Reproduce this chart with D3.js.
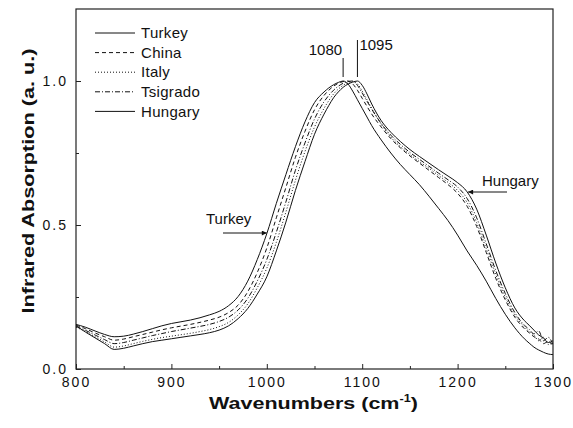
<!DOCTYPE html>
<html>
<head>
<meta charset="utf-8">
<script src="https://cdn.jsdelivr.net/npm/d3@7/dist/d3.min.js"></script>
<style>
  html, body { margin: 0; padding: 0; background: #fff; }
  svg { display: block; }
  text { font-family: Arial, "Liberation Sans", sans-serif; fill: #111; }
</style>
</head>
<body>
<svg id="chart" width="573" height="428"></svg>
<script>
// Wavenumber grid (cm^-1) shared by all spectra
const wavenumbers = [800,810,820,830,840,850,860,870,880,890,900,910,920,930,940,950,960,970,980,990,
  1000,1010,1020,1030,1040,1050,1060,1065,1070,1075,1080,1085,1090,1095,1100,1105,1110,
  1120,1130,1140,1150,1160,1170,1180,1190,1200,1210,1220,1230,1240,1250,1260,1270,
  1275,1280,1285,1290,1295,1300];

// Normalised infrared absorption for each sample
const turkey = [0.155,0.145,0.132,0.120,0.112,0.114,0.121,0.130,0.140,0.150,0.158,0.164,0.170,0.178,0.188,0.200,0.220,0.252,0.305,0.380,
  0.470,0.575,0.675,0.772,0.858,0.925,0.962,0.976,0.987,0.995,1.000,0.990,0.965,0.935,0.905,0.875,0.845,
  0.795,0.750,0.710,0.675,0.640,0.600,0.558,0.515,0.465,0.410,0.360,0.305,0.245,0.190,0.143,0.105,
  0.090,0.076,0.066,0.058,0.052,0.050];
const china = [0.152,0.140,0.125,0.112,0.100,0.104,0.112,0.120,0.128,0.136,0.143,0.149,0.155,0.162,0.170,0.180,0.196,0.222,0.268,0.335,
  0.420,0.525,0.630,0.735,0.825,0.900,0.950,0.968,0.982,0.992,0.998,1.000,0.990,0.968,0.940,0.912,0.885,
  0.840,0.800,0.768,0.740,0.715,0.690,0.665,0.640,0.610,0.565,0.495,0.405,0.315,0.240,0.180,0.140,
  0.126,0.112,0.104,0.088,0.096,0.080];
const italy = [0.145,0.130,0.112,0.094,0.076,0.080,0.088,0.096,0.103,0.109,0.114,0.119,0.124,0.130,0.137,0.147,0.162,0.188,0.226,0.282,
  0.350,0.440,0.545,0.655,0.755,0.840,0.905,0.932,0.955,0.972,0.985,0.994,0.999,0.990,0.965,0.935,0.905,
  0.850,0.805,0.772,0.745,0.720,0.697,0.672,0.648,0.620,0.578,0.508,0.418,0.328,0.250,0.188,0.146,
  0.130,0.118,0.098,0.110,0.085,0.092];
const tsigrado = [0.148,0.134,0.118,0.102,0.088,0.092,0.100,0.108,0.116,0.123,0.130,0.136,0.142,0.148,0.155,0.165,0.180,0.205,0.245,0.305,
  0.380,0.475,0.580,0.690,0.785,0.868,0.928,0.950,0.968,0.982,0.992,0.998,1.000,0.985,0.958,0.930,0.902,
  0.852,0.812,0.780,0.752,0.728,0.704,0.680,0.657,0.632,0.592,0.525,0.435,0.342,0.262,0.196,0.152,
  0.138,0.122,0.132,0.098,0.110,0.085];
const hungary = [0.150,0.128,0.108,0.088,0.068,0.072,0.080,0.088,0.095,0.100,0.105,0.110,0.115,0.120,0.126,0.135,0.150,0.175,0.210,0.260,
  0.320,0.410,0.510,0.620,0.720,0.815,0.885,0.915,0.942,0.962,0.978,0.989,0.996,1.000,0.985,0.955,0.920,
  0.862,0.822,0.790,0.762,0.738,0.715,0.692,0.670,0.647,0.615,0.555,0.465,0.368,0.282,0.212,0.168,
  0.152,0.135,0.118,0.108,0.092,0.098];

const seriesNames = ["Turkey", "China", "Italy", "Tsigrado", "Hungary"];
const seriesValues = [turkey, china, italy, tsigrado, hungary];
const dashStyles = ["none", "4,3", "1,2", "5,2,1,2", "none"];

const xTicks = [800, 900, 1000, 1100, 1200, 1300];
const xMinorTicks = [850, 950, 1050, 1150, 1250];
const yTicks = [0.0, 0.5, 1.0];
const yMinorTicks = [0.25, 0.75];

// Peak positions marked above the band
const peakMarks = [1080, 1095];

const margin = { left: 76, right: 20, top: 9, bottom: 59 };
const width = 573, height = 428;
const svg = d3.select("#chart");

const x = d3.scaleLinear().domain([800, 1300]).range([margin.left, width - margin.right]);
const y = d3.scaleLinear().domain([0, 1.25]).range([height - margin.bottom, margin.top]);

const plot = svg.append("g");

// Spectra
const line = d3.line()
  .x((d, i) => x(wavenumbers[i]))
  .y(d => y(d))
  .curve(d3.curveMonotoneX);

seriesValues.forEach((vals, k) => {
  plot.append("path")
    .attr("d", line(vals))
    .attr("fill", "none")
    .attr("stroke", "#111")
    .attr("stroke-width", 1)
    .attr("stroke-dasharray", dashStyles[k]);
});

// Axes frame with inward ticks
const axisColor = "#222";
const xAxis = d3.axisBottom(x).tickValues(xTicks).tickSizeInner(-5).tickSizeOuter(0).tickPadding(8).tickFormat(d3.format("d"));
const gx = svg.append("g").attr("transform", `translate(0,${y(0)})`).call(xAxis);
const gxm = svg.append("g").attr("transform", `translate(0,${y(0)})`)
  .call(d3.axisBottom(x).tickValues(xMinorTicks).tickSizeInner(-3).tickSizeOuter(0).tickFormat(""));
const yAxis = d3.axisLeft(y).tickValues(yTicks).tickSizeInner(-5).tickSizeOuter(0).tickPadding(8).tickFormat(d3.format(".1f"));
const gy = svg.append("g").attr("transform", `translate(${x(800)},0)`).call(yAxis);
const gym = svg.append("g").attr("transform", `translate(${x(800)},0)`)
  .call(d3.axisLeft(y).tickValues(yMinorTicks).tickSizeInner(-3).tickSizeOuter(0).tickFormat(""));

[gx, gxm, gy, gym].forEach(g => {
  g.select(".domain").remove();
  g.selectAll("line").attr("stroke", axisColor);
  g.selectAll("text").attr("font-size", 14).attr("letter-spacing", "2px").attr("fill", "#111")
    .attr("font-family", "Arial, 'Liberation Sans', sans-serif");
});
gy.selectAll("text").attr("dy", "0.35em");

svg.append("rect")
  .attr("x", x(800)).attr("y", y(1.25))
  .attr("width", x(1300) - x(800)).attr("height", y(0) - y(1.25))
  .attr("fill", "none").attr("stroke", axisColor).attr("stroke-width", 1.2);

// Axis titles (wide bold face)
const xTitle = svg.append("text")
  .attr("font-size", 17).attr("font-weight", "bold").attr("text-anchor", "middle");
xTitle.append("tspan").text("Wavenumbers (cm");
xTitle.append("tspan").text("-1").attr("font-size", 10).attr("dy", -7);
xTitle.append("tspan").text(")").attr("dy", 7);
{
  const w = xTitle.node().getComputedTextLength();
  const s = 209 / w;
  xTitle.attr("transform", `translate(${(x(800) + x(1300)) / 2 - 1},409) scale(${s},1)`);
}

const yTitle = svg.append("text")
  .attr("font-size", 17).attr("font-weight", "bold").attr("text-anchor", "middle")
  .text("Infrared Absorption (a. u.)");
{
  const w = yTitle.node().getComputedTextLength();
  const s = 265 / w;
  yTitle.attr("transform", `translate(34,181) rotate(-90) scale(${s},1)`);
}

// Legend
const legend = svg.append("g");
seriesNames.forEach((name, k) => {
  const ly = 33 + k * 19.6;
  legend.append("line")
    .attr("x1", 95).attr("x2", 135).attr("y1", ly).attr("y2", ly)
    .attr("stroke", "#111").attr("stroke-width", 1)
    .attr("stroke-dasharray", dashStyles[k]);
  legend.append("text")
    .attr("x", 141).attr("y", ly).attr("dy", "0.35em")
    .attr("font-size", 15).attr("letter-spacing", "0.3px")
    .text(name);
});

// Peak markers
plot.append("line")
  .attr("x1", x(peakMarks[0])).attr("x2", x(peakMarks[0]))
  .attr("y1", 58).attr("y2", 77).attr("stroke", "#111");
plot.append("line")
  .attr("x1", x(peakMarks[1])).attr("x2", x(peakMarks[1]))
  .attr("y1", 40).attr("y2", 77).attr("stroke", "#111");
plot.append("text").attr("x", x(peakMarks[0]) - 1).attr("y", 55)
  .attr("text-anchor", "end").attr("font-size", 15).text(String(peakMarks[0]));
plot.append("text").attr("x", x(peakMarks[1]) + 2).attr("y", 50)
  .attr("font-size", 15).text(String(peakMarks[1]));

// Arrow annotations
svg.append("defs").append("marker")
  .attr("id", "arrowhead").attr("viewBox", "0 0 10 10")
  .attr("refX", 10).attr("refY", 5)
  .attr("markerWidth", 7).attr("markerHeight", 5)
  .attr("markerUnits", "userSpaceOnUse")
  .attr("orient", "auto")
  .append("path").attr("d", "M0,0 L10,5 L0,10 Z").attr("fill", "#111");

plot.append("text").attr("x", 206).attr("y", 224).attr("font-size", 15).text("Turkey");
plot.append("line")
  .attr("x1", 223).attr("x2", x(1000)).attr("y1", 233).attr("y2", 233)
  .attr("stroke", "#111").attr("marker-end", "url(#arrowhead)");

plot.append("text").attr("x", 482).attr("y", 186).attr("font-size", 15).text("Hungary");
plot.append("line")
  .attr("x1", 507).attr("x2", x(1211)).attr("y1", 192).attr("y2", 192)
  .attr("stroke", "#111").attr("marker-end", "url(#arrowhead)");
</script>
</body>
</html>
